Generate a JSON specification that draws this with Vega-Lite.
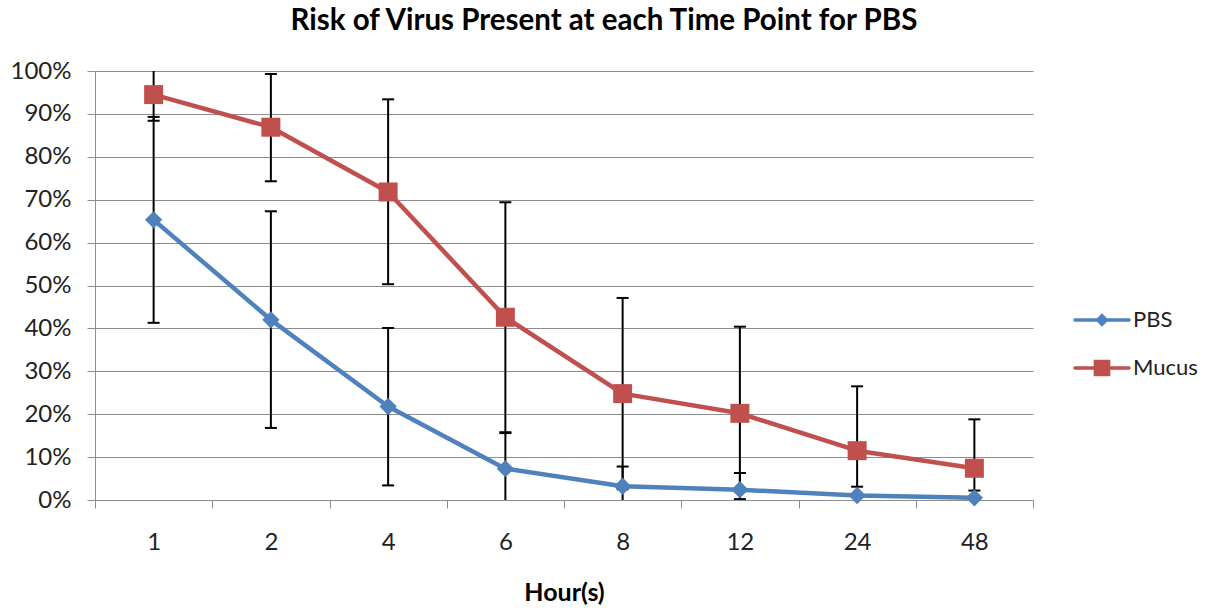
{
  "$schema": "https://vega.github.io/schema/vega-lite/v6.json",
  "width": 938,
  "height": 429,
  "autosize": {"type": "none"},
  "padding": {"left": 95, "top": 71, "right": 180, "bottom": 111},
  "background": "white",
  "config": {
    "view": {"stroke": null},
    "font": "Lato",
    "axis": {"labelFont": "Lato", "titleFont": "Lato", "labelColor": "#222222", "titleColor": "#000000"},
    "axisY": {
      "title": null,
      "format": ".0%",
      "labelFontSize": 24,
      "labelPadding": 16,
      "tickSize": 8,
      "tickColor": "#8e8e8e",
      "domainColor": "#8e8e8e",
      "grid": true,
      "gridColor": "#8e8e8e",
      "gridWidth": 1
    },
    "legend": {
      "title": null,
      "orient": "none",
      "legendX": 981.5,
      "legendY": 223.5,
      "padding": 0,
      "rowPadding": 11,
      "symbolSize": 2209,
      "symbolStrokeWidth": 3.5,
      "labelFont": "Lato",
      "labelFontSize": 22,
      "labelColor": "#222222",
      "labelOffset": 5.5
    }
  },
  "title": {
    "text": "Risk of Virus Present at each Time Point for PBS",
    "font": "Lato",
    "fontSize": 29.5,
    "fontWeight": "bold",
    "color": "#000000",
    "anchor": "middle",
    "frame": "group",
    "dx": 40,
    "offset": 0,
    "baseline": "alphabetic"
  },
  "data": {
    "values": [
      {"hour": 1, "series": "PBS", "value": 0.653, "lo": 0.413, "hi": 0.893},
      {"hour": 2, "series": "PBS", "value": 0.420, "lo": 0.168, "hi": 0.673},
      {"hour": 4, "series": "PBS", "value": 0.218, "lo": 0.034, "hi": 0.401},
      {"hour": 6, "series": "PBS", "value": 0.073, "lo": -0.010, "hi": 0.156},
      {"hour": 8, "series": "PBS", "value": 0.032, "lo": -0.014, "hi": 0.078},
      {"hour": 12, "series": "PBS", "value": 0.024, "lo": -0.015, "hi": 0.063},
      {"hour": 24, "series": "PBS", "value": 0.0105, "lo": -0.010, "hi": 0.031},
      {"hour": 48, "series": "PBS", "value": 0.005, "lo": -0.012, "hi": 0.022},
      {"hour": 1, "series": "Mucus", "value": 0.945, "lo": 0.884, "hi": 1.006},
      {"hour": 2, "series": "Mucus", "value": 0.869, "lo": 0.743, "hi": 0.993},
      {"hour": 4, "series": "Mucus", "value": 0.718, "lo": 0.503, "hi": 0.934},
      {"hour": 6, "series": "Mucus", "value": 0.426, "lo": 0.158, "hi": 0.694},
      {"hour": 8, "series": "Mucus", "value": 0.248, "lo": 0.025, "hi": 0.471},
      {"hour": 12, "series": "Mucus", "value": 0.202, "lo": 0.002, "hi": 0.404},
      {"hour": 24, "series": "Mucus", "value": 0.115, "lo": -0.035, "hi": 0.265},
      {"hour": 48, "series": "Mucus", "value": 0.074, "lo": -0.040, "hi": 0.188}
    ]
  },
  "encoding": {
    "x": {
      "field": "hour",
      "type": "ordinal",
      "bandPosition": 0.5,
      "scale": {"type": "band", "paddingInner": 0, "paddingOuter": 0},
      "axis": {
        "title": "Hour(s)",
        "titleFontSize": 25,
        "titleFontWeight": "bold",
        "titlePadding": 26,
        "labelFontSize": 24,
        "labelAngle": 0,
        "labelPadding": 22,
        "tickBand": "extent",
        "tickSize": 8,
        "tickColor": "#8e8e8e",
        "domainColor": "#8e8e8e",
        "grid": false
      }
    }
  },
  "layer": [
    {
      "mark": {"type": "line", "strokeWidth": 4.5, "strokeCap": "round", "strokeJoin": "round"},
      "encoding": {
        "y": {
          "field": "value",
          "type": "quantitative",
          "title": null,
          "scale": {"domain": [0, 1], "nice": false},
          "axis": {"values": [0, 0.1, 0.2, 0.3, 0.4, 0.5, 0.6, 0.7, 0.8, 0.9, 1]}
        },
        "color": {
          "field": "series",
          "type": "nominal",
          "sort": ["PBS", "Mucus"],
          "scale": {"domain": ["PBS", "Mucus"], "range": ["#4F81BD", "#C0504D"]},
          "legend": {
            "encode": {
              "symbols": {
                "update": {
                  "shape": {"signal": "datum.value === 'PBS' ? 'M-1.15,0H1.15M0,-0.18L0.18,0L0,0.18L-0.18,0Z' : 'M-1.15,0H1.15M-0.28,-0.28H0.28V0.28H-0.28Z'"},
                  "size": {"value": 2209},
                  "strokeWidth": {"value": 3.5},
                  "strokeCap": {"value": "round"},
                  "fill": {"signal": "scale('color', datum.value)"},
                  "stroke": {"signal": "scale('color', datum.value)"},
                  "opacity": {"value": 1},
                  "fillOpacity": {"value": 1},
                  "strokeOpacity": {"value": 1}
                }
              }
            }
          }
        }
      }
    },
    {
      "mark": {"type": "rule", "color": "#000000", "strokeWidth": 2, "clip": true},
      "encoding": {
        "y": {"field": "lo", "type": "quantitative", "title": null, "axis": {"values": [0, 0.1, 0.2, 0.3, 0.4, 0.5, 0.6, 0.7, 0.8, 0.9, 1]}},
        "y2": {"field": "hi"}
      }
    },
    {
      "mark": {"type": "tick", "color": "#000000", "size": 12, "thickness": 2, "clip": true, "opacity": 1},
      "encoding": {
        "y": {"field": "lo", "type": "quantitative", "title": null, "axis": {"values": [0, 0.1, 0.2, 0.3, 0.4, 0.5, 0.6, 0.7, 0.8, 0.9, 1]}}
      }
    },
    {
      "mark": {"type": "tick", "color": "#000000", "size": 12, "thickness": 2, "clip": true, "opacity": 1},
      "encoding": {
        "y": {"field": "hi", "type": "quantitative", "title": null, "axis": {"values": [0, 0.1, 0.2, 0.3, 0.4, 0.5, 0.6, 0.7, 0.8, 0.9, 1]}}
      }
    },
    {
      "transform": [{"filter": "datum.series === 'PBS'"}],
      "mark": {"type": "point", "shape": "diamond", "size": 300, "filled": true, "opacity": 1},
      "encoding": {
        "y": {"field": "value", "type": "quantitative", "title": null, "axis": {"values": [0, 0.1, 0.2, 0.3, 0.4, 0.5, 0.6, 0.7, 0.8, 0.9, 1]}},
        "color": {
          "field": "series",
          "type": "nominal",
          "sort": ["PBS", "Mucus"],
          "legend": {
            "encode": {
              "symbols": {
                "update": {
                  "shape": {"signal": "datum.value === 'PBS' ? 'M-1.15,0H1.15M0,-0.18L0.18,0L0,0.18L-0.18,0Z' : 'M-1.15,0H1.15M-0.28,-0.28H0.28V0.28H-0.28Z'"},
                  "size": {"value": 2209},
                  "strokeWidth": {"value": 3.5},
                  "strokeCap": {"value": "round"},
                  "fill": {"signal": "scale('color', datum.value)"},
                  "stroke": {"signal": "scale('color', datum.value)"},
                  "opacity": {"value": 1},
                  "fillOpacity": {"value": 1},
                  "strokeOpacity": {"value": 1}
                }
              }
            }
          }
        }
      }
    },
    {
      "transform": [{"filter": "datum.series === 'Mucus'"}],
      "mark": {"type": "point", "shape": "square", "size": 361, "filled": true, "opacity": 1},
      "encoding": {
        "y": {"field": "value", "type": "quantitative", "title": null, "axis": {"values": [0, 0.1, 0.2, 0.3, 0.4, 0.5, 0.6, 0.7, 0.8, 0.9, 1]}},
        "color": {
          "field": "series",
          "type": "nominal",
          "sort": ["PBS", "Mucus"],
          "legend": {
            "encode": {
              "symbols": {
                "update": {
                  "shape": {"signal": "datum.value === 'PBS' ? 'M-1.15,0H1.15M0,-0.18L0.18,0L0,0.18L-0.18,0Z' : 'M-1.15,0H1.15M-0.28,-0.28H0.28V0.28H-0.28Z'"},
                  "size": {"value": 2209},
                  "strokeWidth": {"value": 3.5},
                  "strokeCap": {"value": "round"},
                  "fill": {"signal": "scale('color', datum.value)"},
                  "stroke": {"signal": "scale('color', datum.value)"},
                  "opacity": {"value": 1},
                  "fillOpacity": {"value": 1},
                  "strokeOpacity": {"value": 1}
                }
              }
            }
          }
        }
      }
    }
  ]
}
